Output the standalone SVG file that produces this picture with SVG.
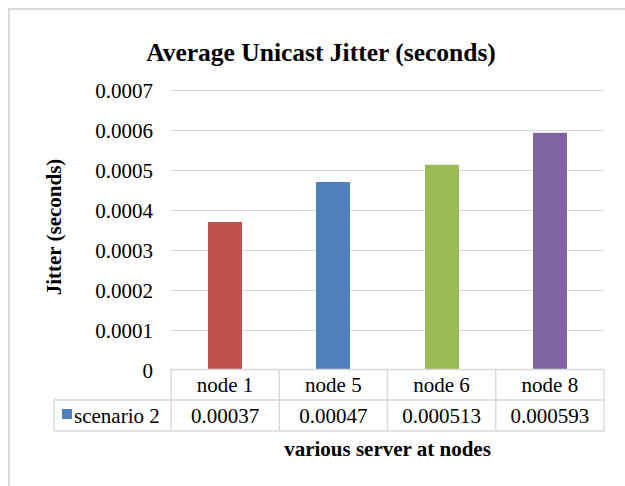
<svg xmlns="http://www.w3.org/2000/svg" width="625" height="486" viewBox="0 0 625 486">
  <style>
    text { font-family: "Liberation Serif", "Times New Roman", serif; fill: #000; }
    .tick { font-size: 21px; text-anchor: end; }
    .cell { font-size: 21px; text-anchor: middle; }
    .bold { font-weight: bold; }
    .grid { stroke: #d9d9d9; stroke-width: 1.2; }
    .tbl { stroke: #d9d9d9; stroke-width: 1.4; fill: none; }
  </style>

  <!-- chart frame -->
  <rect x="0" y="0" width="625" height="486" fill="#fff"/>
  <rect x="9" y="9" width="640" height="500" fill="none" stroke="#d9d9d9" stroke-width="2"/>

  <!-- title -->
  <text id="title" class="bold" x="321" y="61" font-size="25.5" text-anchor="middle">Average Unicast Jitter (seconds)</text>

  <!-- gridlines -->
  <g id="gridlines">
    <line class="grid" x1="171" y1="90.5" x2="604" y2="90.5"/>
    <line class="grid" x1="171" y1="130.5" x2="604" y2="130.5"/>
    <line class="grid" x1="171" y1="170.5" x2="604" y2="170.5"/>
    <line class="grid" x1="171" y1="210.5" x2="604" y2="210.5"/>
    <line class="grid" x1="171" y1="250.5" x2="604" y2="250.5"/>
    <line class="grid" x1="171" y1="290.5" x2="604" y2="290.5"/>
    <line class="grid" x1="171" y1="330.5" x2="604" y2="330.5"/>
  </g>

  <!-- value axis -->
  <g id="y-axis">
    <text class="tick" x="153" y="98">0.0007</text>
    <text class="tick" x="153" y="138">0.0006</text>
    <text class="tick" x="153" y="178">0.0005</text>
    <text class="tick" x="153" y="218">0.0004</text>
    <text class="tick" x="153" y="258">0.0003</text>
    <text class="tick" x="153" y="298">0.0002</text>
    <text class="tick" x="153" y="338">0.0001</text>
    <text class="tick" x="153" y="377.5">0</text>
    <text class="bold" font-size="21" text-anchor="middle" transform="translate(60.5 227) rotate(-90)">Jitter (seconds)</text>
  </g>

  <!-- bars -->
  <g id="bar-node1"><rect x="208" y="222" width="34" height="147.5" fill="#c0504d"/></g>
  <g id="bar-node5"><rect x="316" y="182" width="34" height="187.5" fill="#4f81bd"/></g>
  <g id="bar-node6"><rect x="425" y="164.8" width="34" height="204.7" fill="#9bbb59"/></g>
  <g id="bar-node8"><rect x="533" y="132.8" width="34" height="236.7" fill="#8064a2"/></g>

  <!-- data table -->
  <g id="data-table">
    <polyline class="tbl" points="171,431 171,369.5 604,369.5 604,431"/>
    <line class="tbl" x1="54" y1="400" x2="604" y2="400"/>
    <line class="tbl" x1="54" y1="431" x2="604" y2="431"/>
    <line class="tbl" x1="54" y1="400" x2="54" y2="431"/>
    <line class="tbl" x1="279.25" y1="369" x2="279.25" y2="431"/>
    <line class="tbl" x1="387.5" y1="369" x2="387.5" y2="431"/>
    <line class="tbl" x1="495.75" y1="369" x2="495.75" y2="431"/>

    <text class="cell" x="225" y="392">node 1</text>
    <text class="cell" x="333.4" y="392">node 5</text>
    <text class="cell" x="441.6" y="392">node 6</text>
    <text class="cell" x="549.9" y="392">node 8</text>

    <rect x="62" y="409" width="10" height="10" fill="#4f81bd"/>
    <text x="74" y="423" font-size="21">scenario 2</text>
    <text class="cell" x="225" y="423">0.00037</text>
    <text class="cell" x="333.4" y="423">0.00047</text>
    <text class="cell" x="441.6" y="423">0.000513</text>
    <text class="cell" x="549.9" y="423">0.000593</text>
  </g>

  <!-- category axis title -->
  <text id="x-title" class="bold" x="387.5" y="456" font-size="21" text-anchor="middle">various server at nodes</text>
</svg>
